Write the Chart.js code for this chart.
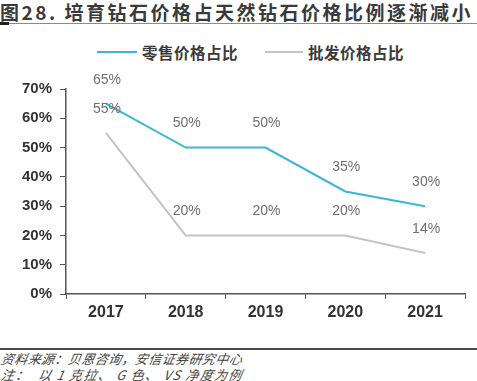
<!DOCTYPE html>
<html><head><meta charset="utf-8">
<script src="https://cdn.jsdelivr.net/npm/chart.js@4/dist/chart.umd.min.js"></script>
<style>
html,body{margin:0;padding:0;background:#fff;width:477px;height:381px;overflow:hidden;}
#wrap{position:relative;width:477px;height:381px;}
.title{position:absolute;left:0;top:0;font-family:"Noto Sans CJK SC";font-weight:bold;font-size:19px;line-height:24px;color:#3a3a3a;letter-spacing:2.5px;white-space:nowrap;}
.tline{position:absolute;left:0;top:23px;width:477px;height:1px;background:#8a8a8a;}
.tmark{position:absolute;left:0;top:22px;width:9px;height:3px;background:#222;}
.leg{position:absolute;top:43px;font-family:"Noto Sans CJK SC";font-weight:bold;font-size:15.5px;line-height:18px;color:#3a3a3a;white-space:nowrap;}
.legline{position:absolute;top:51px;height:2px;}
.fline{position:absolute;left:0;top:348px;width:477px;height:2px;background:#4a4a4a;}
.foot{position:absolute;left:0;font-family:"Noto Sans CJK SC";font-style:italic;font-size:13px;line-height:15px;color:#444;letter-spacing:0.4px;white-space:pre;transform:skewX(-10deg);transform-origin:left bottom;}
#cv{position:absolute;left:0;top:70px;}
</style></head>
<body><div id="wrap">
<div class="title">图28. 培育钻石价格占天然钻石价格比例逐渐减小</div>
<div class="tline"></div><div class="tmark"></div>
<div class="legline" style="left:97px;width:40px;background:#3ab6d6;"></div>
<div class="leg" style="left:142px;letter-spacing:0.5px;">零售价格占比</div>
<div class="legline" style="left:265px;width:38px;background:#c4c4c4;"></div>
<div class="leg" style="left:308px;letter-spacing:0.5px;">批发价格占比</div>
<div class="fline"></div>
<div class="foot" style="top:351px;">资料来源：贝恩咨询，安信证券研究中心</div>
<div class="foot" style="top:367px;letter-spacing:1.3px;">注：  以 1 克拉、 G 色、 VS 净度为例</div>
<canvas id="cv" width="477" height="260"></canvas>
</div>
<script>
const years = ['2017','2018','2019','2020','2021'];
const retailShare = [65, 50, 50, 35, 30];
const wholesaleShare = [55, 20, 20, 20, 14];
const yTicks = [0,10,20,30,40,50,60,70];

const labelPlugin = {
  id: 'valueLabels',
  afterDatasetsDraw(chart) {
    const ctx = chart.ctx;
    ctx.save();
    ctx.font = '14px "Liberation Sans"';
    ctx.fillStyle = '#6e6e6e';
    ctx.textAlign = 'center';
    ctx.textBaseline = 'middle';
    chart.data.datasets.forEach((ds, i) => {
      const meta = chart.getDatasetMeta(i);
      meta.data.forEach((pt, j) => {
        ctx.fillText(ds.data[j] + '%', pt.x + 1, pt.y - 24);
      });
    });
    ctx.restore();
  }
};

new Chart(document.getElementById('cv'), {
  type: 'line',
  data: {
    labels: years,
    datasets: [
      {label:'零售价格占比', data: retailShare, borderColor:'#3ab6d6', borderWidth:2, pointRadius:0, tension:0, fill:false},
      {label:'批发价格占比', data: wholesaleShare, borderColor:'#c4c4c4', borderWidth:2, pointRadius:0, tension:0, fill:false}
    ]
  },
  options: {
    responsive:false, animation:false, devicePixelRatio:1,
    layout:{padding:{top:19, right:12, left:0, bottom:0}},
    plugins:{legend:{display:false}, tooltip:{enabled:false}},
    scales:{
      x:{
        offset:true,
        grid:{display:true, drawOnChartArea:false, offset:true, tickLength:5, color:'#555', lineWidth:1},
        border:{display:true, color:'#555', width:1.5},
        ticks:{font:{family:'"Liberation Sans"', weight:'bold', size:16}, color:'#333', padding:4},
        afterFit(s){ s.height = 36; }
      },
      y:{
        min:0, max:70,
        afterBuildTicks(s){ s.ticks = yTicks.map(v=>({value:v})); },
        grid:{display:true, drawOnChartArea:false, tickLength:6, color:'#555', lineWidth:1},
        border:{display:true, color:'#555', width:1.5},
        ticks:{font:{family:'"Liberation Sans"', weight:'bold', size:15}, color:'#333', padding:8, callback:v=>v+'%'},
        afterFit(s){ s.width = 66; }
      }
    }
  },
  plugins:[labelPlugin]
});
</script>
</body></html>
